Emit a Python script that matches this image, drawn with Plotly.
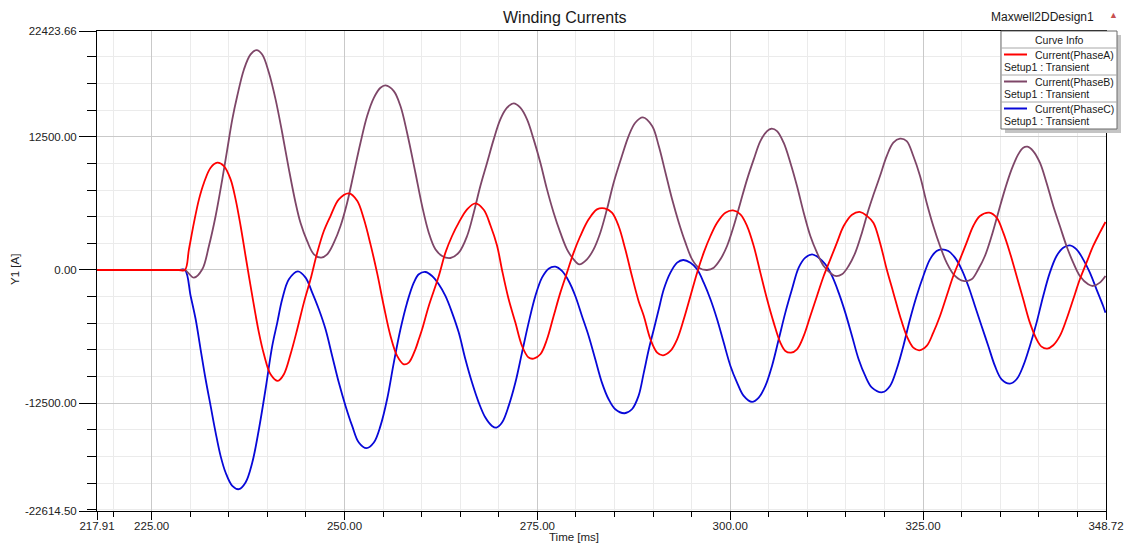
import plotly.graph_objects as go

# ---------------- data ----------------
time_a = [217.91, 222.00, 226.00, 228.50, 229.31, 229.83, 230.48, 231.13, 231.78, 232.64, 233.50, 234.37, 235.23,
          235.88, 236.53, 237.17, 238.04, 238.90, 239.55, 240.41, 241.36, 242.14, 243.00,
          243.87, 244.73, 245.59, 246.46, 247.32, 248.18, 249.26, 250.56, 251.64, 252.50,
          253.37, 254.23, 255.09, 255.96, 256.82, 257.68, 258.33, 259.19, 259.63, 260.06,
          260.92, 262.22, 263.08, 263.94, 264.81, 265.89, 266.97, 268.05, 268.91, 269.77,
          270.42, 271.28, 272.15, 273.01, 273.87, 274.52, 275.39, 276.25, 277.11, 277.98,
          278.84, 279.70, 280.57, 281.65, 282.73, 283.72, 284.67, 285.53, 286.40, 287.26,
          288.12, 288.80, 289.66, 290.53, 291.30, 292.25, 293.12, 293.98, 294.85, 295.71,
          296.57, 297.44, 298.30, 299.38, 300.37, 301.32, 302.19, 303.05, 303.91, 304.78,
          305.64, 306.50, 307.15, 307.88, 308.66, 309.53, 310.39, 311.25, 312.12, 312.98,
          313.84, 314.71, 315.79, 316.87, 317.73, 318.56, 319.42, 320.29, 321.15, 322.01,
          322.88, 323.74, 324.52, 325.47, 326.33, 327.20, 328.06, 328.92, 329.79, 330.65,
          331.51, 332.38, 333.59, 334.54, 335.40, 336.26, 337.13, 337.99, 338.85, 339.72,
          340.36, 341.10, 341.88, 342.74, 343.60, 344.47, 345.33, 346.19, 347.06, 347.92, 348.65]
current_a = [0, 0, 0, 0, 0, 1938, 4439, 6627, 8190, 9597, 10066, 9753, 8503,
             6627, 4126, 1313, -2438, -5877, -7909, -9784, -10410, -9784, -7909,
             -5564, -3063, -875, 1626, 3657, 5064, 6627, 7190, 6500, 4800,
             2400, -300, -3376, -6189, -8065, -8847, -8690, -7440, -6502, -5564,
             -3376, -563, 1626, 3189, 4439, 5689, 6252, 5650, 4200, 2300,
             0, -2751, -4939, -7127, -8221, -8315, -7909, -6502, -4314, -2126,
             -250, 1626, 3189, 4752, 5689, 5783, 5377, 4126, 1938, -563,
             -2900, -4314, -6502, -7752, -8003, -7596, -6502, -4626, -2438, -250,
             1626, 3189, 4439, 5377, 5596, 5220, 4126, 2251, -250, -2751,
             -4939, -6815, -7596, -7752, -7440, -6189, -4314, -2438, -563, 1000,
             2563, 4126, 5189, 5439, 5064, 4439, 2563, 63, -2126, -4314,
             -6189, -7284, -7534, -7127, -5877, -4314, -2438, -563, 1000, 2563,
             4126, 5064, 5377, 4908, 3501, 1626, -563, -2751, -4939, -6502,
             -7190, -7377, -7065, -6189, -4626, -2751, -875, 688, 2251, 3501, 4501]

time_b = [217.91, 222.00, 226.00, 228.50, 229.31, 230.48, 231.56, 232.42, 233.29, 234.15, 234.80, 235.45, 236.09,
          236.96, 237.82, 238.60, 239.33, 240.20, 241.06, 241.92, 242.79, 243.65, 244.30,
          245.16, 246.03, 246.97, 247.75, 248.62, 249.48, 250.34, 251.21, 252.07, 252.93,
          253.80, 254.66, 255.31, 256.39, 257.25, 258.11, 259.19, 260.06, 260.92, 261.78,
          262.65, 263.73, 264.81, 265.89, 266.75, 267.61, 268.48, 269.34, 270.20, 271.07,
          271.93, 272.79, 273.66, 274.52, 275.39, 276.25, 277.11, 277.98, 278.84, 279.70,
          280.44, 281.43, 282.29, 283.16, 284.02, 284.89, 285.96, 286.83, 287.69, 288.68,
          289.88, 290.74, 291.61, 292.47, 293.34, 294.20, 295.06, 295.92, 297.00, 297.87,
          298.73, 299.59, 300.46, 301.32, 302.19, 303.05, 303.91, 304.78, 305.34, 306.07,
          306.93, 307.80, 308.66, 309.53, 310.39, 311.25, 312.12, 313.20, 313.63, 314.49,
          315.35, 316.22, 317.08, 317.95, 318.56, 319.42, 320.29, 321.15, 322.01, 322.88,
          323.74, 324.61, 325.47, 326.33, 327.20, 328.06, 329.14, 330.22, 331.30, 332.16,
          333.02, 333.89, 334.75, 335.62, 336.48, 337.34, 337.99, 338.55, 339.28, 340.15,
          341.01, 341.88, 342.74, 343.60, 344.47, 345.33, 346.41, 347.06, 347.92, 348.65]
current_b = [0, 0, 0, 0, 0, -719, 63, 2251, 5064, 8503, 11316, 14130, 16318,
             18819, 20225, 20632, 20225, 18506, 16005, 12879, 9441, 6315, 4400,
             2700, 1469, 1157, 1469, 2563, 4126, 6315, 9128, 11941, 14442,
             16150, 17099, 17318, 16787, 15380, 12879, 9128, 6002, 3501, 1938,
             1313, 1125, 1626, 3189, 5377, 7878, 10066, 12254, 14130, 15224,
             15630, 15224, 14130, 12254, 10066, 7565, 5377, 3501, 1938, 1000,
             531, 1000, 1938, 3501, 5689, 8190, 10691, 12567, 13817, 14320,
             13504, 11629, 9128, 6627, 4439, 2563, 1000, 219, 0, 219,
             1000, 2251, 4126, 6315, 8503, 10378, 12098, 13035, 13254, 13035,
             11941, 10066, 7878, 5377, 3189, 1626, 375, -406, -563, -406,
             375, 1626, 3501, 5689, 7030, 8815, 10691, 11941, 12316, 12098,
             10691, 8815, 6315, 4126, 2251, 688, -563, -1032, -875, 63,
             1313, 3189, 5377, 7565, 9441, 10847, 11472, 11566, 11160, 10066,
             8190, 6002, 4126, 2251, 688, -563, -1344, -1500, -1188, -563]

time_c = [217.91, 222.00, 226.00, 228.50, 229.31, 230.05, 230.70, 231.34, 231.99, 232.64, 233.29, 233.93, 234.58,
          235.45, 236.31, 237.17, 238.04, 238.90, 239.76, 240.63, 241.28, 241.92, 242.79,
          243.95, 244.95, 245.81, 246.67, 247.54, 248.40, 249.26, 250.13, 250.99, 251.85,
          252.85, 253.80, 254.66, 255.52, 256.39, 257.25, 258.11, 258.98, 259.63, 260.49,
          261.35, 262.22, 263.08, 263.94, 264.81, 265.67, 266.53, 267.40, 268.26, 269.12,
          269.69, 270.42, 271.28, 272.15, 273.01, 273.87, 274.74, 275.60, 276.46, 277.33,
          278.19, 279.06, 279.92, 280.78, 281.65, 282.51, 283.37, 284.24, 285.10, 286.31,
          287.26, 288.12, 288.80, 289.45, 290.10, 290.74, 291.39, 292.25, 293.12, 293.90,
          294.85, 295.71, 296.57, 297.44, 298.30, 299.16, 300.03, 300.89, 301.75, 302.83,
          303.70, 304.56, 305.42, 306.29, 307.15, 308.01, 308.88, 309.74, 310.61, 311.47,
          312.33, 313.20, 314.06, 314.92, 315.79, 316.65, 317.51, 318.38, 319.75, 320.72,
          321.58, 322.45, 323.31, 324.17, 325.04, 325.90, 326.76, 327.41, 328.28, 329.14,
          330.00, 330.87, 331.73, 332.59, 333.46, 334.32, 335.18, 336.26, 337.13, 337.99,
          338.85, 339.72, 340.58, 341.44, 342.31, 343.17, 344.03, 344.90, 345.76, 346.63,
          347.49, 348.35, 348.65]
current_c = [0, 0, 0, 0, 0, -2438, -4626, -7440, -10253, -12754, -15255, -17443, -19006,
             -20256, -20569, -19944, -18068, -14942, -11191, -7127, -4939, -2751, -875,
             -125, -719, -2126, -3689, -5564, -8065, -10566, -12754, -14630, -16193,
             -16724, -16193, -14630, -12129, -8690, -5564, -3063, -1188, -406, -188,
             -563, -1344, -2438, -4001, -5877, -8378, -10566, -12441, -13848, -14630,
             -14786, -14317, -12754, -10566, -7752, -4939, -2438, -719, 125, 313,
             -94, -1032, -2438, -4314, -6189, -8378, -10566, -12129, -13067, -13442,
             -13067, -11816, -9628, -7440, -5564, -3689, -1813, -250, 688, 938,
             688, 63, -1188, -2751, -4626, -6815, -9003, -10566, -11816, -12379,
             -11973, -10878, -9003, -6502, -4001, -1813, 219, 1157, 1469, 1157,
             531, -563, -2126, -4001, -6189, -8378, -9941, -11035, -11470, -10878,
             -9315, -7127, -4626, -2438, -563, 1000, 1782, 1938, 1782, 1157,
             63, -1500, -3376, -5252, -7127, -9003, -10253, -10660, -10253, -9003,
             -7127, -4939, -2438, -250, 1313, 2094, 2313, 1938, 1000, -250,
             -1813, -3376, -4001]

series_names = ["Current(PhaseA)", "Current(PhaseB)", "Current(PhaseC)"]
series_sub = "Setup1 : Transient"
x_ticks = [217.91, 225.0, 250.0, 275.0, 300.0, 325.0, 348.72]
y_ticks = [-22614.50, -12500.0, 0.0, 12500.0, 22423.66]

# ---------------- styling ----------------
W, H = 1127, 544
L, R, T, B = 97, 1106, 31, 511
FONT = "Liberation Sans, Arial, sans-serif"
colors = ["#ff0000", "#7e4668", "#0808d8"]


def px(x):
    return (x - L) / (R - L)


def py(y):
    return (B - y) / (B - T)


fig = go.Figure()
series = [(time_a, current_a), (time_b, current_b), (time_c, current_c)]
for i in [2, 1, 0]:
    t, v = series[i]
    fig.add_trace(go.Scatter(x=t, y=v, mode="lines", name=series_names[i],
                             line=dict(color=colors[i], width=1.8, shape="spline", smoothing=1.0),
                             showlegend=False, hoverinfo="skip"))

axis_common = dict(showline=True, linecolor="#000000", linewidth=1, mirror=True,
                   ticks="outside", tickcolor="#000000", tickwidth=1, automargin=False,
                   showgrid=True, gridcolor="#c9c9c9", gridwidth=1, zeroline=False,
                   tickfont=dict(family=FONT, size=11.5, color="#222222"))

fig.update_layout(
    width=W, height=H,
    margin=dict(l=L, r=W - R, t=T, b=H - B, pad=0, autoexpand=False),
    paper_bgcolor="white", plot_bgcolor="white",
    showlegend=False,
    xaxis=dict(range=[x_ticks[0], x_ticks[-1]], tickmode="array", tickvals=x_ticks,
               ticktext=[f"{v:.2f}" for v in x_ticks], ticklen=8, ticklabelstandoff=-4,
               minor=dict(tickmode="linear", tick0=0, dtick=5, ticks="outside", ticklen=5,
                          tickcolor="#000000", showgrid=True, gridcolor="#ebebeb", gridwidth=1),
               **axis_common),
    yaxis=dict(range=[y_ticks[0], y_ticks[-1]], tickmode="array", tickvals=y_ticks,
               ticktext=[f"{v:.2f}" for v in y_ticks], ticklen=17,
               minor=dict(tickmode="linear", tick0=0, dtick=2500, ticks="outside", ticklen=9,
                          tickcolor="#000000", showgrid=True, gridcolor="#ebebeb", gridwidth=1),
               **axis_common),
)

ann = []
ann.append(dict(text="Winding Currents", x=px(565), y=py(17), xref="paper", yref="paper",
                showarrow=False, font=dict(family=FONT, size=16, color="#1a1a1a"),
                xanchor="center", yanchor="middle"))
ann.append(dict(text="Maxwell2DDesign1", x=px(1042), y=py(17), xref="paper", yref="paper",
                showarrow=False, font=dict(family=FONT, size=12, color="#1a1a1a"),
                xanchor="center", yanchor="middle"))
ann.append(dict(text="▲", x=px(1113), y=py(15), xref="paper", yref="paper",
                showarrow=False, font=dict(family=FONT, size=9, color="#c85050"),
                xanchor="center", yanchor="middle"))
ann.append(dict(text="Y1 [A]", x=px(15), y=py(270), xref="paper", yref="paper",
                showarrow=False, textangle=-90, font=dict(family=FONT, size=11.5, color="#222222"),
                xanchor="center", yanchor="middle"))
ann.append(dict(text="Time [ms]", x=px(574), y=py(537), xref="paper", yref="paper",
                showarrow=False, font=dict(family=FONT, size=11.5, color="#222222"),
                xanchor="center", yanchor="middle"))

shapes = []
# legend box (shadow + frame)
lx0, lx1, ly0, ly1 = 1001, 1117, 31, 129
shapes.append(dict(type="rect", xref="paper", yref="paper", x0=px(lx0 + 4), x1=px(lx1 + 4),
                   y0=py(ly0 + 4), y1=py(ly1 + 4), fillcolor="#c4c4c4", line=dict(width=0)))
shapes.append(dict(type="rect", xref="paper", yref="paper", x0=px(lx0), x1=px(lx1),
                   y0=py(ly0), y1=py(ly1), fillcolor="white", line=dict(color="#6a6a6a", width=1)))
for sy in [48, 75, 102]:
    shapes.append(dict(type="line", xref="paper", yref="paper", x0=px(lx0), x1=px(lx1),
                       y0=py(sy), y1=py(sy), line=dict(color="#a8a8a8", width=1)))
ann.append(dict(text="Curve Info", x=px(1059), y=py(39.5), xref="paper", yref="paper",
                showarrow=False, font=dict(family=FONT, size=10.5, color="#1a1a1a"),
                xanchor="center", yanchor="middle"))
for i in range(3):
    yy = 54.5 + 27 * i
    shapes.append(dict(type="line", xref="paper", yref="paper", x0=px(1004), x1=px(1027),
                       y0=py(yy), y1=py(yy), line=dict(color=colors[i], width=2)))
    ann.append(dict(text=series_names[i], x=px(1033), y=py(yy), xref="paper", yref="paper",
                    showarrow=False, font=dict(family=FONT, size=10.5, color="#1a1a1a"),
                    xanchor="left", yanchor="middle"))
    ann.append(dict(text=series_sub, x=px(1002), y=py(yy + 12.5), xref="paper", yref="paper",
                    showarrow=False, font=dict(family=FONT, size=10.5, color="#1a1a1a"),
                    xanchor="left", yanchor="middle"))

fig.update_layout(annotations=ann, shapes=shapes)
fig.write_html("out.html")
